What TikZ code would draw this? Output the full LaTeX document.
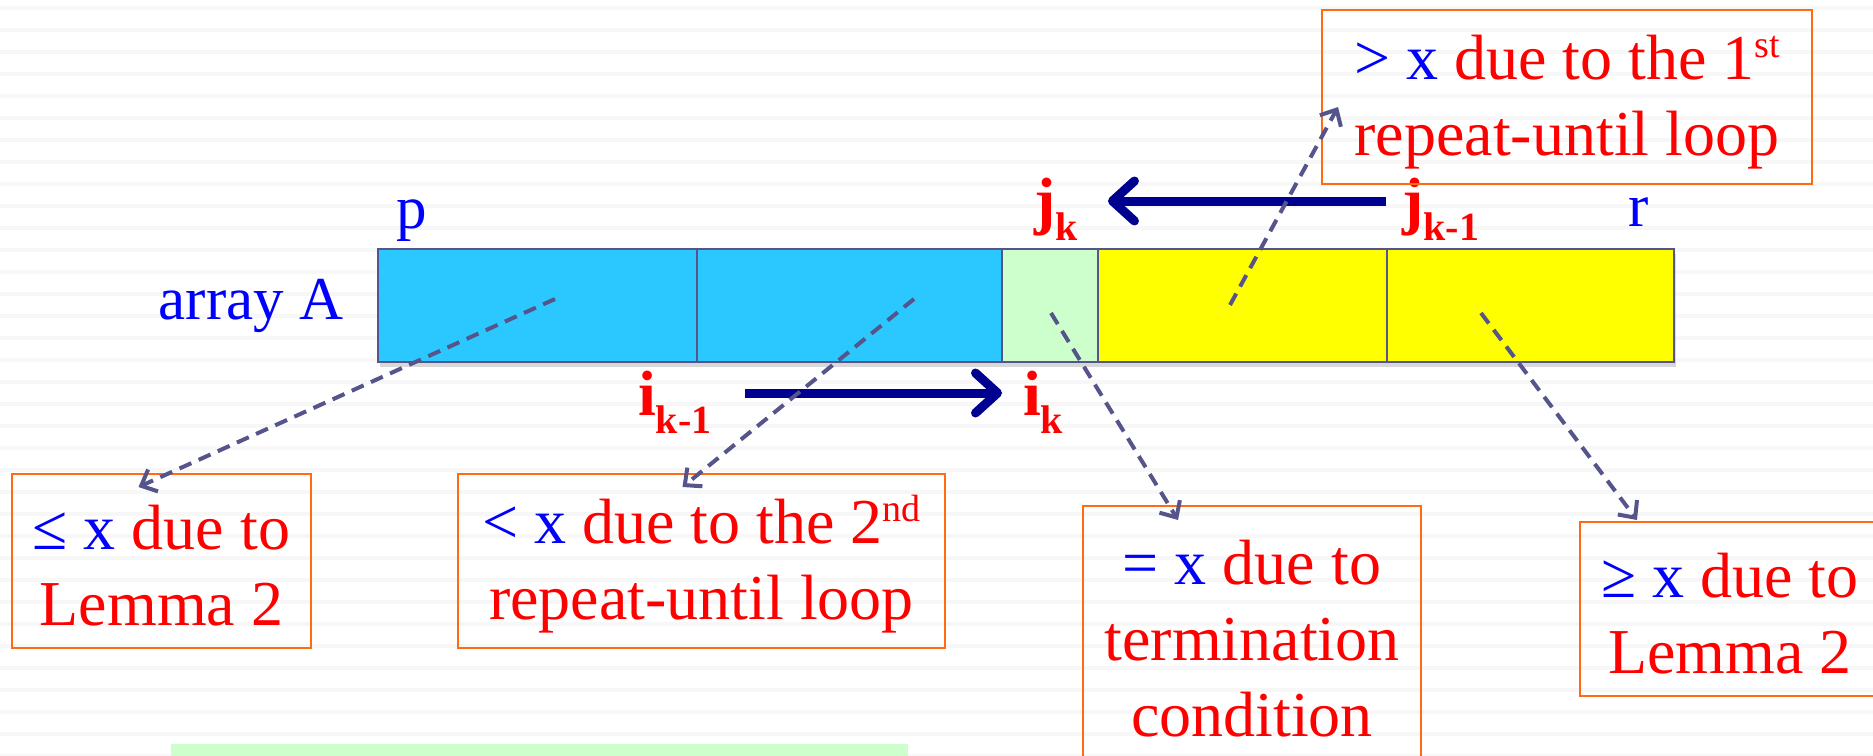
\documentclass[tikz,border=0pt]{standalone}
\usepackage{fontspec}
\setmainfont{Liberation Serif}
\usetikzlibrary{arrows.meta,positioning,calc,shadows}
\definecolor{cellB}{HTML}{2AC8FF}
\definecolor{cellG}{HTML}{CCFFCC}
\definecolor{cellY}{HTML}{FFFF00}
\definecolor{edgeS}{HTML}{55558C}
\definecolor{boxO}{HTML}{FF6A13}
\definecolor{navyA}{HTML}{000090}
\definecolor{txtR}{HTML}{FF0000}
\definecolor{txtB}{HTML}{0000FF}
\definecolor{stripe}{HTML}{F7F7F7}
\newcommand{\blu}[1]{\textcolor{txtB}{#1}}
\newcommand{\lead}{\rule{0pt}{54pt}}
\newcommand{\idxsub}[1]{\raisebox{-18pt}{\fontsize{40}{40}\selectfont #1}}
\newcommand{\ordsup}[1]{\smash{\raisebox{22pt}{\fontsize{38}{38}\selectfont #1}}}

\begin{document}
\begin{tikzpicture}[x=1pt,y=-1pt, font=\fontsize{64}{76}\selectfont,
  cell/.style={draw=edgeS, line width=2pt, anchor=north west, inner sep=0pt, minimum height=113pt,
               drop shadow={shadow xshift=2pt, shadow yshift=-5pt, opacity=0.3}},
  note/.style={draw=boxO, line width=2pt, anchor=north west, align=center, inner sep=0pt, text=txtR},
  lbl/.style={font=\fontsize{61}{61}\selectfont, text=txtB, inner sep=0pt, anchor=base},
  idx/.style={font=\bfseries\fontsize{64}{64}\selectfont, text=txtR, inner sep=0pt, anchor=base west},
  move/.style={-{Straight Barb[length=22pt,width=40pt,round]}, line width=9pt, draw=navyA},
  hint/.style={-{Straight Barb[length=13pt,width=24pt]}, dash pattern=on 13pt off 8pt, line width=4pt, draw=edgeS},
  ]
\useasboundingbox (0,0) rectangle (1873,755);
\fill[white] (0,0) rectangle (1873,755);
\foreach \s in {0,...,34}
  \fill[stripe] (0,{6+22*\s}) rectangle (1873,{10+22*\s});
\fill[cellG] (171,744) rectangle (908,760);
% ---- the array
\node[cell, fill=cellB, minimum width=319pt] (c1) at (377,248) {};
\node[cell, fill=cellB, minimum width=305pt] (c2) at (696,248) {};
\node[cell, fill=cellG, minimum width=96pt]  (c3) at (1001,248) {};
\node[cell, fill=cellY, minimum width=289pt] (c4) at (1097,248) {};
\node[cell, fill=cellY, minimum width=287pt] (c5) at (1386,248) {};
\node[lbl] (arr) at (251,319) {array A};
\node[lbl] (p) at (412,228) {p};
\node[lbl] (r) at (1639,226) {r};
% ---- the indices
\node[idx] (jk)  at (1034,222) {j\idxsub{k}};
\node[idx] (jk1) at (1402,222) {j\idxsub{k-1}};
\node[idx] (ik1) at (638,415) {i\idxsub{k-1}};
\node[idx] (ik)  at (1023,415) {i\idxsub{k}};
\draw[move] ([xshift=-16pt,yshift=21pt]jk1.base west) -- ([xshift=30pt,yshift=21pt]jk.base east);
\draw[move] ([xshift=33pt,yshift=22pt]ik1.base east) -- ([xshift=-21pt,yshift=22pt]ik.base west);
% ---- the notes
\node[note, minimum width=490pt, minimum height=174pt] (gt) at (1321,9)
  {\lead\blu{> x} due to the 1\ordsup{st}\\repeat-until loop};
\node[note, minimum width=299pt, minimum height=174pt] (le) at (11,473)
  {\lead\blu{≤ x} due to\\Lemma 2};
\node[note, minimum width=487pt, minimum height=174pt] (lt) at (457,473)
  {\lead\blu{< x} due to the 2\ordsup{nd}\\repeat-until loop};
\node[note, minimum width=338pt, minimum height=256pt] (eq) at (1082,505)
  {\lead\blu{= x} due to\\termination\\condition};
\node[note, minimum width=300pt, minimum height=174pt] (ge) at (1579,521)
  {\lead\blu{≥ x} due to\\Lemma 2};
% ---- the hints
\coordinate (h1) at (555,299);
\coordinate (h2) at (914,299);
\coordinate (h3) at (1051,313);
\coordinate (h4) at (1230,305);
\coordinate (h5) at (1481,313);
\draw[hint] (h1) -- ([xshift=-23pt,yshift=-14pt]le.north);
\draw[hint] (h2) -- ([xshift=-19pt,yshift=-14pt]lt.north);
\draw[hint] (h3) -- ([xshift=-74pt,yshift=-15pt]eq.north);
\draw[hint] (h4) -- ([xshift=17pt,yshift=-10pt]gt.west);
\draw[hint] (h5) -- ([xshift=-93pt,yshift=1pt]ge.north);
\end{tikzpicture}
\end{document}
